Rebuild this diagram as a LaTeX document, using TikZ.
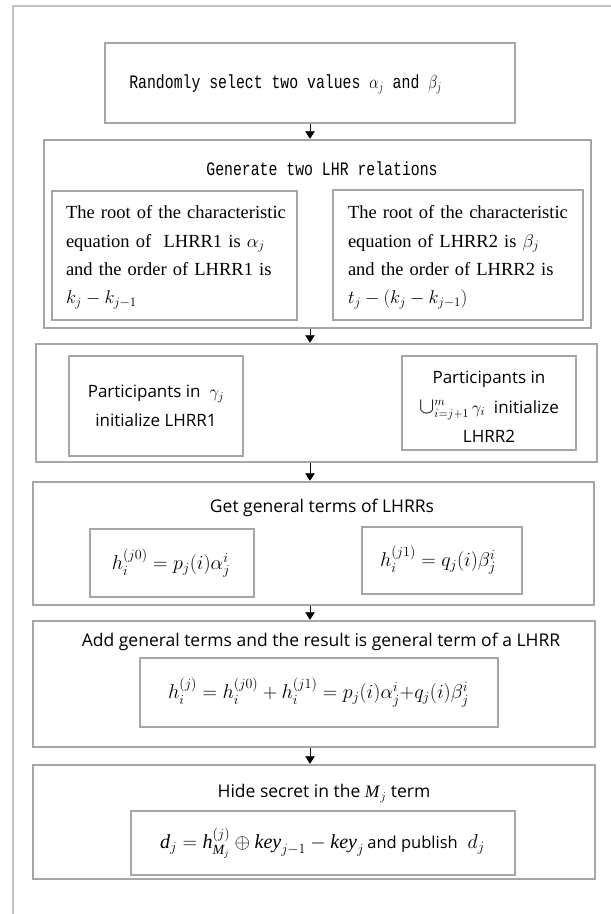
\RequirePackage{fix-cm}
\documentclass[tikz,border=0pt]{standalone}
\usepackage{amsmath}
\usepackage{fontspec}
\setmainfont{Liberation Serif}
\newfontfamily\monof{Liberation Mono}
\newfontfamily\sansf{Open Sans}
\usetikzlibrary{arrows.meta}
\definecolor{boxgray}{HTML}{A6A6A6}
\definecolor{framegray}{HTML}{C4C4C4}
\newcommand{\sline}[1]{\makebox[\linewidth][s]{#1}}
\newcommand{\ti}[1]{\textrm{\itshape #1}}
\newcommand{\monotext}[1]{\scalebox{0.78}[1]{#1}}
\newcommand{\bigU}{\mathop{\scalebox{1.35}{$\cup$}}\nolimits}
\begin{document}
\begin{tikzpicture}[x=1pt,y=-1pt,
  box/.style={draw=boxgray, line width=2.5pt, rectangle, inner sep=0pt, fill=white},
  txt/.style={inner sep=0pt, align=center},
  monotxt/.style={inner sep=0pt, font=\monof\fontsize{19}{22}\selectfont},
  serifpar/.style={inner sep=0pt, align=left, font=\fontsize{18.5}{28.4}\selectfont},
  sanstxt/.style={inner sep=0pt, align=center, font=\sansf\fontsize{17.5}{28.5}\selectfont},
  mathtxt/.style={inner sep=0pt, font=\fontsize{20}{24}\selectfont},
  arr/.style={-{Triangle[length=7.5pt,width=9.5pt]}, line width=0.8pt, black}]
\useasboundingbox (0,0) rectangle (611,914);
\fill[white] (0,0) rectangle (611,914);
\draw[framegray, line width=1.5pt] (13,914) -- (13,6) -- (611,6);

% outer boxes
\node[box, minimum width=410pt, minimum height=80pt] (b1) at (310,83) {};
\node[box, minimum width=547pt, minimum height=188pt] (b2) at (317.5,234) {};
\node[box, minimum width=561pt, minimum height=118pt] (b3) at (316.5,403) {};
\node[box, minimum width=561pt, minimum height=123pt] (b4) at (313.5,543.5) {};
\node[box, minimum width=562pt, minimum height=126pt] (b5) at (314,684) {};
\node[box, minimum width=562pt, minimum height=114pt] (b6) at (314,822) {};

% inner boxes
\node[box, minimum width=245pt, minimum height=129pt] (b2l) at (174.5,255.5) {};
\node[box, minimum width=250pt, minimum height=130pt] (b2r) at (458,255) {};
\node[box, minimum width=174pt, minimum height=100pt] (b3l) at (156,406) {};
\node[box, minimum width=174pt, minimum height=94pt] (b3r) at (489,403) {};
\node[box, minimum width=164pt, minimum height=68pt] (b4l) at (172,563) {};
\node[box, minimum width=160pt, minimum height=67pt] (b4r) at (442,560.5) {};
\node[box, minimum width=358pt, minimum height=69pt] (b5i) at (319,692.5) {};
\node[box, minimum width=384pt, minimum height=64pt] (b6i) at (323,843) {};

% texts
\node[monotxt] (t1) at (285.5,84)
  {\monotext{Randomly select two values $\alpha_j$ and $\beta_j$}};
\node[monotxt] (t2) at (322,169)
  {\monotext{Generate two LHR relations}};
\node[serifpar, text width=218pt] (t2l) at (175,257.5)
  {\sline{The root of the characteristic}\\
   \sline{equation of \ LHRR1 is $\alpha_j$}\\
   \sline{and the order of LHRR1 is}\\
   $k_j-k_{j-1}$};
\node[serifpar, text width=221pt] (t2r) at (458.5,257.5)
  {\sline{The root of the characteristic}\\
   \sline{equation of LHRR2 is $\beta_j$}\\
   \sline{and the order of LHRR2 is}\\
   $t_j-(k_j-k_{j-1})$};
\node[sanstxt, font=\sansf\fontsize{17}{28.5}\selectfont] (t3l) at (156,406)
  {Participants in \ $\gamma_j$\\initialize LHRR1};
\node[sanstxt, font=\sansf\fontsize{17}{29.5}\selectfont] (t3r) at (489,407)
  {Participants in\\$\bigU_{i=j+1}^{m}\gamma_i$ \ initialize\\LHRR2};
\node[sanstxt] (t4) at (322,507.5) {Get general terms of LHRRs};
\node[mathtxt] (t4l) at (171,563) {$h_i^{(j0)}=p_j(i)\alpha_j^i$};
\node[mathtxt] (t4r) at (438,560) {$h_i^{(j1)}=q_j(i)\beta_j^i$};
\node[sanstxt] (t5) at (321,641.5)
  {Add general terms and the result is general term of a LHRR};
\node[mathtxt] (t5i) at (318.5,692.5)
  {$h_i^{(j)}=h_i^{(j0)}+h_i^{(j1)}=p_j(i)\alpha_j^i{+}q_j(i)\beta_j^i$};
\node[sanstxt] (t6) at (324,793.5) {Hide secret in the \ti{M}$_j$ term};
\node[mathtxt, font=\fontsize{20}{24}\selectfont] (t6i) at (322.5,843)
  {$\ti{d}_j=\ti{h}^{(j)}_{\ti{M}_j}\oplus\ti{key}_{j-1}-\ti{key}_j$\,{\sansf\fontsize{16.5}{20}\selectfont and publish} \ $d_j$};

% connectors
\draw[arr] (b1.south) -- (b1.south |- b2.north);
\draw[arr] (b1.south |- b2.south) -- (b1.south |- b3.north);
\draw[arr] (b1.south |- b3.south) -- (b1.south |- b4.north);
\draw[arr] (b1.south |- b4.south) -- (b1.south |- b5.north);
\draw[arr] (b1.south |- b5.south) -- (b1.south |- b6.north);
\end{tikzpicture}
\end{document}
